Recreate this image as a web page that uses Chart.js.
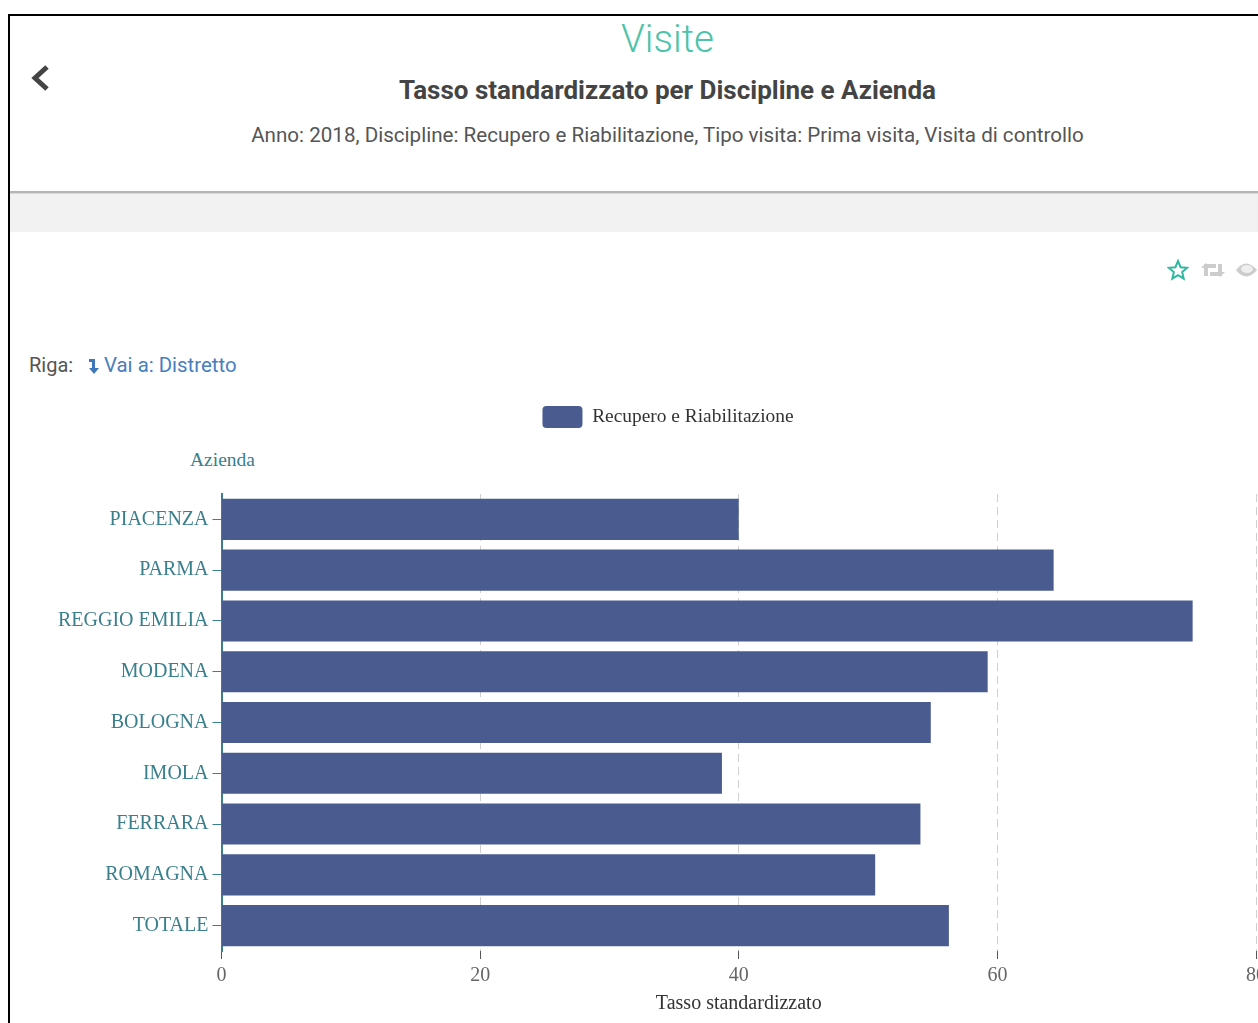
<!DOCTYPE html>
<html lang="it">
<head>
<meta charset="utf-8">
<title>Visite</title>
<script src="https://cdn.jsdelivr.net/npm/chart.js@4"></script>
<style>
  html, body { margin: 0; padding: 0; background: #fff; }
  body { width: 1258px; height: 1023px; overflow: hidden; position: relative; font-family: Roboto, sans-serif; }
  .frame-top { position: absolute; left: 8px; top: 14px; width: 1250px; height: 2px; background: #000; }
  .frame-left { position: absolute; left: 8px; top: 14px; width: 2px; height: 1009px; background: #000; }
  .band { position: absolute; left: 10px; top: 191px; width: 1248px; height: 41px; background: #f2f2f2; border-top: 2px solid #b4b4b4; box-sizing: border-box; box-shadow: inset 0 1px 1px #d8d8d8; }
  .txt { position: absolute; white-space: nowrap; }
  .center { left: 10px; width: 1315px; text-align: center; }
  #visite { top: 15px; font-size: 38.5px; font-weight: 300; color: #4fc3a8; line-height: 48px; }
  #titolo { top: 74px; font-size: 26px; font-weight: 700; color: #444; line-height: 32px; }
  #sotto { top: 122px; font-size: 20.6px; color: #555; line-height: 26px; }
  #riga { left: 29px; top: 352px; font-size: 20px; color: #555; line-height: 26px; }
  #vai { left: 104px; top: 352px; font-size: 20.4px; color: #4a7dbd; line-height: 26px; }
  #azienda { left: 190px; top: 448px; font: 19.5px "Liberation Serif", serif; color: #3a7f8c; line-height: 24px; }
  svg { position: absolute; }
  #grafico { position: absolute; left: 0; top: 398px; }
</style>
</head>
<body>
<div class="frame-top"></div>
<div class="frame-left"></div>
<div class="band"></div>

<svg style="left:30px;top:64px" width="22" height="28" viewBox="0 0 22 28"><path d="M17 3 L5 14 L17 25" fill="none" stroke="#444" stroke-width="5"/></svg>
<div class="txt center" id="visite">Visite</div>
<div class="txt center" id="titolo">Tasso standardizzato per Discipline e Azienda</div>
<div class="txt center" id="sotto">Anno: 2018, Discipline: Recupero e Riabilitazione, Tipo visita: Prima visita, Visita di controllo</div>

<svg style="left:1167px;top:259px" width="22" height="22" viewBox="0 0 22 22"><path d="M11 2 L13.6 8.2 L20.2 8.8 L15.2 13.1 L16.7 19.6 L11 16.2 L5.3 19.6 L6.8 13.1 L1.8 8.8 L8.4 8.2 Z" fill="none" stroke="#2fb8a0" stroke-width="2"/></svg>
<svg style="left:1201px;top:262px" width="24" height="16" viewBox="0 0 24 16"><path d="M5 14 V4 H15 M19 2 V12 H9" fill="none" stroke="#ccc" stroke-width="4"/><path d="M0 6 L5 1 L10 6 Z M14 10 L19 15 L24 10 Z" fill="#ccc"/></svg>
<svg style="left:1235px;top:261px" width="23" height="18" viewBox="0 0 23 18"><path d="M1 9 Q11 -4 22 9 Q11 22 1 9 Z" fill="#ccc"/><ellipse cx="12" cy="8" rx="6" ry="4" fill="#eee"/></svg>

<div class="txt" id="riga">Riga:</div>
<svg style="left:87px;top:357px" width="14" height="18" viewBox="0 0 14 18"><path d="M2 2 H8 V11 H12 L7 17 L2 11 H5 V5 H2 Z" fill="#3f78b8"/></svg>
<div class="txt" id="vai">Vai a: Distretto</div>
<div class="txt" id="azienda">Azienda</div>

<canvas id="grafico" width="1335" height="625"></canvas>

<script>
const categories = ["PIACENZA", "PARMA", "REGGIO EMILIA", "MODENA", "BOLOGNA", "IMOLA", "FERRARA", "ROMAGNA", "TOTALE"];
const tassoValues = [40.0, 64.35, 75.1, 59.25, 54.85, 38.7, 54.05, 50.55, 56.25];
const xTicks = [0, 20, 40, 60, 80];
const seriesName = "Recupero e Riabilitazione";
const xTitle = "Tasso standardizzato";

const serif = "'Liberation Serif', serif";
const barColor = "#4a5b8f";
const tealText = "#3a7f8c";

// room under the legend for the "Azienda" label, and legend centred on the page width
const legendGap = {
  id: "legendGap",
  beforeInit: function(chart) {
    const fit = chart.legend.fit;
    chart.legend.fit = function() {
      fit.call(this);
      this.height += 56;
    };
  },
  afterLayout: function(chart) {
    chart.legend.left = 80;
  },
};

new Chart(document.getElementById("grafico"), {
  type: "bar",
  plugins: [legendGap],
  data: {
    labels: categories,
    datasets: [
      {
        label: seriesName,
        data: tassoValues,
        backgroundColor: barColor,
        barPercentage: 0.81,
        categoryPercentage: 1,
      },
    ],
  },
  options: {
    indexAxis: "y",
    responsive: false,
    animation: false,
    layout: { padding: { left: 40, right: 79, bottom: 6 } },
    scales: {
      x: {
        min: 0,
        max: 80,
        afterBuildTicks: function(axis) {
          axis.ticks = xTicks.map(function(v) { return { value: v }; });
        },
        ticks: { color: "#666", font: { family: serif, size: 20 }, maxRotation: 0, padding: 5 },
        title: { display: true, text: xTitle, color: "#333", font: { family: serif, size: 20 }, padding: { top: -1, bottom: 1 } },
        grid: { color: "#cfcfcf", tickColor: "#555", tickLength: 8 },
        border: { display: false, dash: [8, 5] },
      },
      y: {
        afterFit: function(axis) { axis.width = 181.5; },
        ticks: { color: tealText, font: { family: serif, size: 20 }, padding: 4 },
        grid: { offset: false, drawOnChartArea: false, tickColor: tealText, tickLength: 9 },
        border: { display: true, color: tealText, width: 2 },
      },
    },
    plugins: {
      tooltip: { enabled: false },
      legend: {
        position: "top",
        labels: {
          boxWidth: 40,
          boxHeight: 22,
          useBorderRadius: true,
          borderRadius: 4,
          color: "#333",
          font: { family: serif, size: 19.4 },
          padding: 8,
        },
      },
    },
  },
});
</script>
</body>
</html>
